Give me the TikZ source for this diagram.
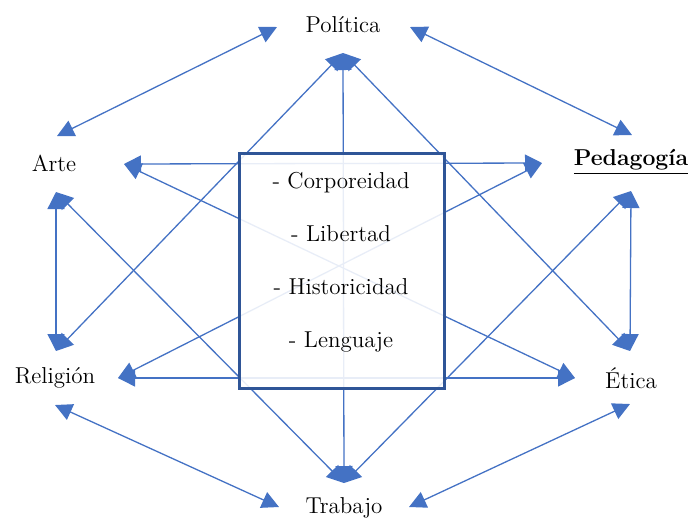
\documentclass[tikz,border=0pt]{standalone}
\usepackage{amsmath,amssymb}
\usepackage{xcolor}
\usetikzlibrary{arrows.meta}
\definecolor{linea}{HTML}{4472C4}
\definecolor{marco}{HTML}{2F5597}

\begin{document}
\begin{tikzpicture}[x=0.5pt, y=-0.5pt,
    etiqueta/.style={font=\fontsize{11.5}{14}\selectfont},
    flecha/.style={draw=linea, line width=0.65pt,
        {Triangle[length=8.5pt,width=8.5pt]}-{Triangle[length=8.5pt,width=8.5pt]}}]
    \useasboundingbox (0,0) rectangle (694,521);
    % etiquetas
    \node[etiqueta] (politica) at (343,25) {Política};
    \node[etiqueta] (arte) at (54,163) {Arte};
    \node[etiqueta] (pedagogia) at (631,162) {\underline{\textbf{Pedagogía}}};
    \node[etiqueta] (religion) at (55,378) {Religión};
    \node[etiqueta] (etica) at (631,378) {Ética};
    \node[etiqueta] (trabajo) at (344,508) {Trabajo};
    % puntas de las flechas
    \coordinate (pol-l) at (277,27);
    \coordinate (pol-r) at (410,27);
    \coordinate (pol-b) at (343,53);
    \coordinate (arte-t) at (57,136);
    \coordinate (arte-r) at (124,164);
    \coordinate (arte-b) at (56,192);
    \coordinate (ped-t) at (632,135);
    \coordinate (ped-l) at (542,163);
    \coordinate (ped-b) at (631,191);
    \coordinate (rel-t) at (56,351);
    \coordinate (rel-r) at (118,378);
    \coordinate (rel-b) at (55,405);
    \coordinate (eti-t) at (630,351);
    \coordinate (eti-l) at (575,378);
    \coordinate (eti-b) at (630,404);
    \coordinate (tra-t) at (344,483);
    \coordinate (tra-l) at (279,507);
    \coordinate (tra-r) at (409,507);
    % hexagono exterior
    \draw[flecha] (arte-t) -- (pol-l);
    \draw[flecha] (pol-r) -- (ped-t);
    \draw[flecha] (arte-b) -- (rel-t);
    \draw[flecha] (ped-b) -- (eti-t);
    \draw[flecha] (rel-b) -- (tra-l);
    \draw[flecha] (eti-b) -- (tra-r);
    % cruces
    \draw[flecha] (pol-b) -- (tra-t);
    \draw[flecha] (pol-b) -- (rel-t);
    \draw[flecha] (pol-b) -- (eti-t);
    \draw[flecha] (arte-b) -- (tra-t);
    \draw[flecha] (ped-b) -- (tra-t);
    \draw[flecha] (arte-r) -- (ped-l);
    \draw[flecha] (rel-r) -- (eti-l);
    \draw[flecha] (arte-r) -- (eti-l);
    \draw[flecha] (rel-r) -- (ped-l);
    % recuadro central
    \node[draw=marco, line width=1.5pt, fill=white, fill opacity=0.88,
          minimum width=102.5pt, minimum height=117.5pt] (marco) at (341.5,270.5) {};
    \node[align=center, font=\fontsize{11.5}{26.5}\selectfont] (lista) at (341,262)
        {- Corporeidad\\ - Libertad\\ - Historicidad\\ - Lenguaje};
\end{tikzpicture}
\end{document}
